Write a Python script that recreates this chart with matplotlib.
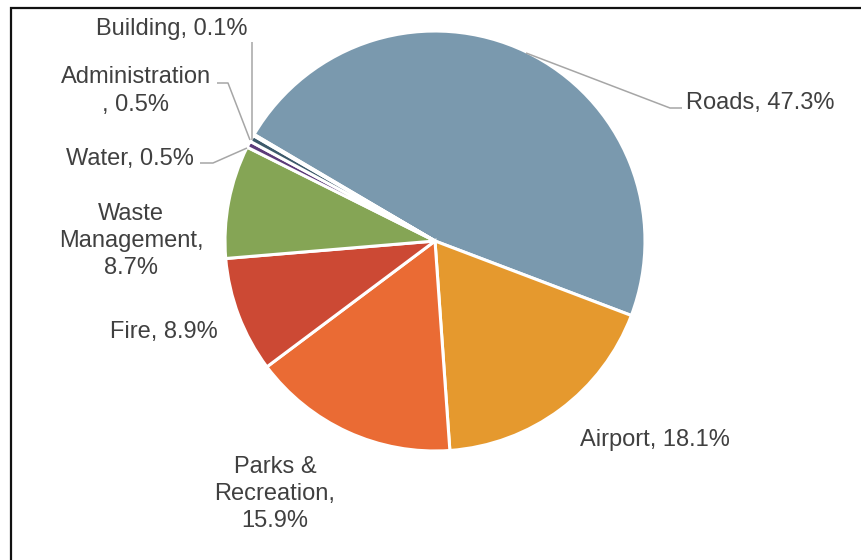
import matplotlib
matplotlib.use("Agg")
import matplotlib.pyplot as plt

plt.rcParams['font.family'] = ['Liberation Sans', 'DejaVu Sans']

# share of spending by department, clockwise from Roads
departments = ["Roads", "Airport", "Parks &\nRecreation", "Fire",
               "Waste\nManagement", "Water", "Administration", "Building"]
shares = [47.3, 18.1, 15.9, 8.9, 8.7, 0.5, 0.5, 0.1]
separators = [", ", ", ", ",\n", ", ", ",\n", ", ", "\n, ", ", "]
colors = ["#7A99AE", "#E5992E", "#EA6B34", "#CC4934",
          "#85A555", "#5C3B7A", "#3D5A6B", "#9FB6C6"]

W, H = 862, 560
fig = plt.figure(figsize=(W / 100, H / 100), dpi=100)
ax = fig.add_axes([0, 0, 1, 1])


def Y(y):
    # pixel row (from top) -> data y
    return H - y


ax.pie(shares, colors=colors, startangle=149.5, counterclock=False,
       center=(435, Y(241)), radius=210, frame=False,
       wedgeprops=dict(edgecolor="white", linewidth=2.2))

ax.set_xlim(0, W)
ax.set_ylim(0, H)
ax.set_aspect("equal")
ax.axis("off")

labels = [f"{d}{s}{v}%" for d, s, v in zip(departments, separators, shares)]
label_pos = [(760, 103), (655, 440), (275, 494), (164, 332),
             (131, 241), (130, 159), (136, 91), (172, 29)]
for text, (x, y) in zip(labels, label_pos):
    ax.text(x, Y(y), text, ha="center", va="center", multialignment="center",
            fontsize=17, color="#404040", linespacing=1.3)

# leader lines for the labels sitting off the slices
leaders = [
    [(526, 53), (670, 108), (682, 108)],
    [(252, 42), (252, 140)],
    [(217, 83), (228, 83), (250, 140)],
    [(200, 163), (213, 163), (247, 148)],
]
for pts in leaders:
    xs = [p[0] for p in pts]
    ys = [Y(p[1]) for p in pts]
    ax.plot(xs, ys, color="#A6A6A6", lw=1.1, solid_capstyle="butt")

# outer frame
ax.plot([11, 11, W], [0, Y(8), Y(8)], color="#111111", lw=1.6,
        solid_joinstyle="miter", clip_on=False)

fig.savefig("out.png", dpi=100)
